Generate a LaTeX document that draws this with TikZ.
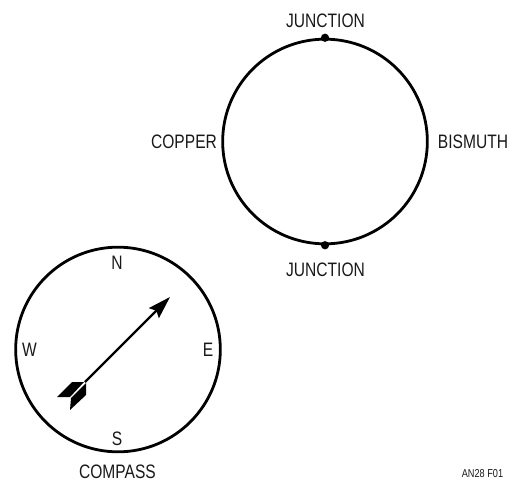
\documentclass[tikz,border=0pt]{standalone}
\usepackage{fontspec}
\setmainfont[FakeStretch=0.8]{Liberation Sans}
\usetikzlibrary{arrows.meta}

\begin{document}
\begin{tikzpicture}[
    x=0.75pt, y=-0.75pt,
    ring/.style={circle, draw, line width=2.1pt, inner sep=0pt, minimum size=153.5pt},
    junctiondot/.style={circle, fill, inner sep=0pt, minimum size=6.2pt},
    lbl/.style={inner sep=0pt, text=black!90, font=\fontsize{14.6}{16}\selectfont},
    tinylbl/.style={inner sep=0pt, text=black!90, font=\fontsize{8.6}{10}\selectfont},
    needle/.style={-{Stealth[length=17pt, width=10.5pt, inset=2.5pt]}, line width=1.7pt}
]
\useasboundingbox (0,0) rectangle (509,481);

% Thermocouple loop
\node[ring] (loop) at (325,141.5) {};
\node[junctiondot] (topjunction) at (loop.north) {};
\node[junctiondot] (botjunction) at (loop.south) {};
\node[lbl] (toplabel) at (325.5,21) {JUNCTION};
\node[lbl] (botlabel) at (325.5,270) {JUNCTION};
\node[lbl] (copper) at (184,142) {COPPER};
\node[lbl] (bismuth) at (473,142) {BISMUTH};

% Compass
\node[ring] (compass) at (118,349.5) {};
\node[lbl] (north) at (117,263) {N};
\node[lbl] (south) at (117,439) {S};
\node[lbl] (west) at (29.5,350) {W};
\node[lbl] (east) at (208,350) {E};
\node[lbl] (compasslabel) at (117.5,472) {COMPASS};
\node[tinylbl] (figlabel) at (482.5,474) {AN28 F01};

% Needle
\coordinate (tail) at (85,382);
\coordinate (tip) at (170,297);
\draw[needle] (tail) -- (tip);
\fill (57,397) -- (72,382) -- (84,382) -- (70,397) -- cycle;
\fill (70,410) -- (71,398) -- (86,383) -- (86,395) -- cycle;
\end{tikzpicture}
\end{document}
